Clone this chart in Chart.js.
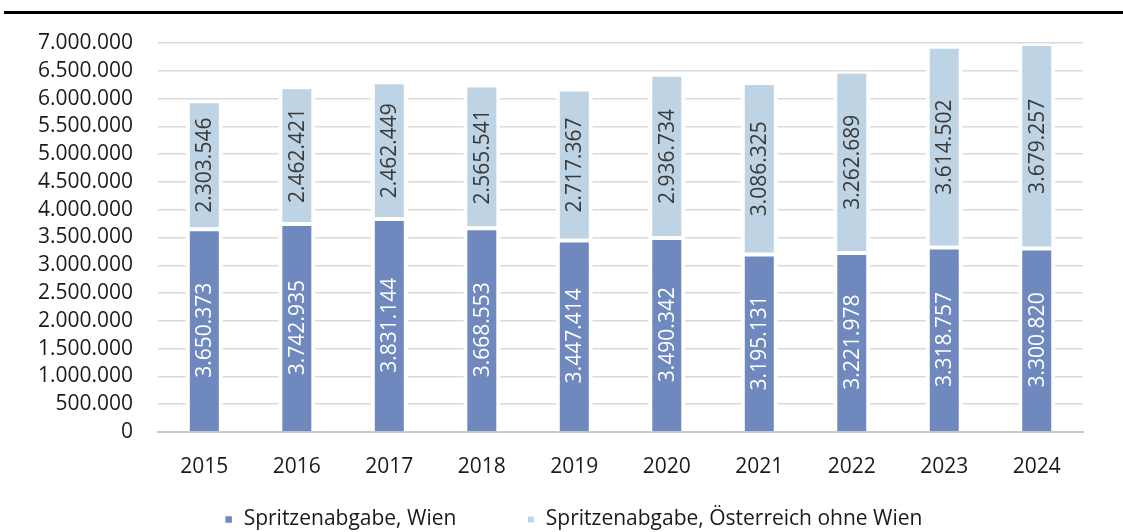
<!DOCTYPE html>
<html>
<head>
<meta charset="utf-8">
<script src="https://cdn.jsdelivr.net/npm/chart.js@4/dist/chart.umd.min.js"></script>
<style>
  html, body { margin: 0; padding: 0; background: #fff; overflow: hidden; }
  #wrap { width: 1123px; height: 532px; }
</style>
</head>
<body>
<div id="wrap"><canvas id="myChart"></canvas></div>
<script>
// daten
var jahre = ['2015', '2016', '2017', '2018', '2019', '2020', '2021', '2022', '2023', '2024'];
var wien = [3650373, 3742935, 3831144, 3668553, 3447414, 3490342, 3195131, 3221978, 3318757, 3300820];
var oesterreich = [2303546, 2462421, 2462449, 2565541, 2717367, 2936734, 3086325, 3262689, 3614502, 3679257];
var serienNamen = ['Spritzenabgabe, Wien', 'Spritzenabgabe, Österreich ohne Wien'];

var schrift = '"Open Sans", "Noto Sans", sans-serif';
var groesse = 21;

function punkt(n) {
    return String(n).replace(/\B(?=(\d{3})+(?!\d))/g, '.');
}

// schwarze linie oben
var linieOben = {
    id: 'linieOben',
    beforeDraw: function (chart) {
        var ctx = chart.ctx;
        ctx.save();
        ctx.fillStyle = '#000';
        ctx.fillRect(4, 11, chart.width - 4, 3);
        ctx.restore();
    }
};

// beschriftung in den balken (gedreht)
var balkenText = {
    id: 'balkenText',
    afterDatasetsDraw: function (chart) {
        var ctx = chart.ctx;
        ctx.save();
        ctx.font = groesse + 'px ' + schrift;
        ctx.textAlign = 'center';
        ctx.textBaseline = 'middle';
        chart.data.datasets.forEach(function (ds, i) {
            var meta = chart.getDatasetMeta(i);
            meta.data.forEach(function (bar, j) {
                var mitte = (bar.y + bar.base) / 2;
                ctx.save();
                ctx.translate(bar.x, mitte);
                ctx.rotate(-Math.PI / 2);
                ctx.fillStyle = i === 0 ? '#ffffff' : '#3a3a3a';
                ctx.fillText(punkt(ds.data[j]), 0, 1);
                ctx.restore();
            });
        });
        ctx.restore();
    }
};

// abstand hinter den legendeneintraegen (en-spaces)
var legendAbstand = ['\u2002\u2002\u2002\u2002\u2002 ', '\u2002\u2002\u2002\u2002\u2002\u2002\u2002\u2002\u2002'];

var totalChart = new Chart('myChart', {
    type: 'bar',
    data: {
        labels: jahre,
        datasets: [
            {
                label: serienNamen[0],
                data: wien,
                backgroundColor: '#6F88BD',
                borderColor: '#ffffff',
                borderWidth: { top: 2, left: 4, right: 4, bottom: 0 },
                borderSkipped: false
            },
            {
                label: serienNamen[1],
                data: oesterreich,
                backgroundColor: '#BED4E4',
                borderColor: '#ffffff',
                borderWidth: { top: 2, left: 4, right: 4, bottom: 2 },
                borderSkipped: false
            }
        ]
    },
    options: {
        responsive: true,
        maintainAspectRatio: false,
        animation: false,
        layout: { padding: { top: 43, right: 40, left: 13, bottom: -8 } },
        datasets: { bar: { barPercentage: 0.4, categoryPercentage: 1 } },
        scales: {
            x: {
                stacked: true,
                grid: { display: false },
                border: { color: '#C8C8C8', width: 2 },
                ticks: { color: '#1a1a1a', font: { family: schrift, size: groesse }, padding: 14 },
                afterFit: function (scale) { scale.height = 65; }
            },
            y: {
                stacked: true,
                min: 0,
                max: 7000000,
                grid: { color: '#DADADA', lineWidth: 1.5, drawTicks: false },
                border: { display: false },
                ticks: {
                    stepSize: 500000,
                    autoSkip: false,
                    color: '#1a1a1a',
                    padding: 25,
                    font: { family: schrift, size: groesse },
                    callback: function (v) { return punkt(v); }
                }
            }
        },
        plugins: {
            legend: {
                position: 'bottom',
                fullSize: false,
                labels: {
                    color: '#1a1a1a',
                    font: { family: schrift, size: groesse },
                    boxWidth: 9,
                    boxHeight: 9,
                    padding: 12,
                    generateLabels: function (chart) {
                        var items = Chart.defaults.plugins.legend.labels.generateLabels(chart);
                        items.forEach(function (it, i) { it.text = it.text + legendAbstand[i]; });
                        return items;
                    }
                }
            },
            tooltip: { enabled: false }
        }
    },
    plugins: [linieOben, balkenText]
});
</script>
</body>
</html>
